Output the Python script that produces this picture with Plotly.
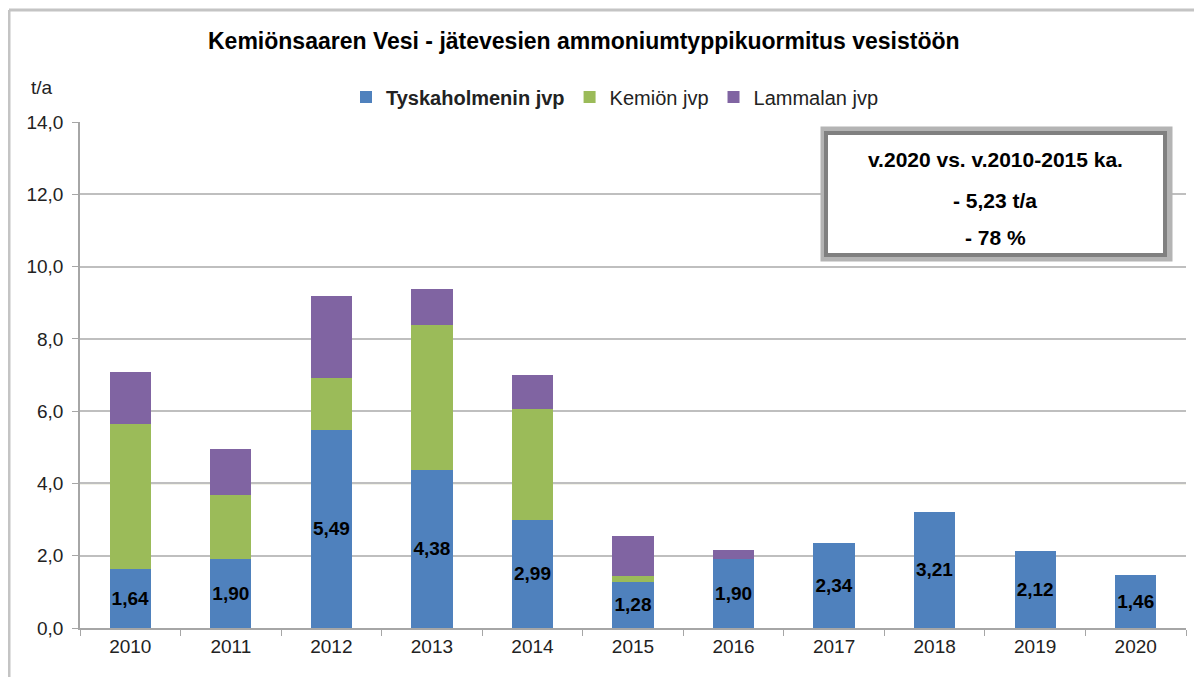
import plotly.graph_objects as go

years = ["2010", "2011", "2012", "2013", "2014", "2015", "2016", "2017", "2018", "2019", "2020"]
tyskaholmen = [1.64, 1.90, 5.49, 4.38, 2.99, 1.28, 1.90, 2.34, 3.21, 2.12, 1.46]
kemio = [4.00, 1.78, 1.43, 4.00, 3.07, 0.17, 0, 0, 0, 0, 0]
lammala = [1.44, 1.27, 2.27, 1.00, 0.94, 1.10, 0.25, 0, 0, 0, 0]
ytick_vals = [0, 2, 4, 6, 8, 10, 12, 14]
ytick_text = ["0,0", "2,0", "4,0", "6,0", "8,0", "10,0", "12,0", "14,0"]

FONT = "Liberation Sans, Arial, sans-serif"

labels = [f"{v:.2f}".replace(".", ",") for v in tyskaholmen]

fig = go.Figure()
fig.add_trace(go.Bar(x=years, y=tyskaholmen, name="<b>Tyskaholmenin jvp</b>",
                     marker=dict(color="#4F81BD", line=dict(width=0)),
                     text=labels, textposition="inside", insidetextanchor="middle",
                     textangle=0,
                     textfont=dict(family=FONT, size=19, color="black", weight="bold")))
fig.add_trace(go.Bar(x=years, y=kemio, name="Kemiön jvp",
                     marker=dict(color="#9BBB59", line=dict(width=0))))
fig.add_trace(go.Bar(x=years, y=lammala, name="Lammalan jvp",
                     marker=dict(color="#8064A2", line=dict(width=0))))

# plot area in screenshot pixels: x 80..1186, y 122..628 (page has 8px body margin)
def px_x(px):
    return (px - 80) / 1106

def px_y(py):
    return (628 - py) / 506

shapes = [
    # outer frame (top and left edges visible)
    dict(type="line", xref="paper", yref="paper", x0=px_x(9), x1=px_x(1260), y0=px_y(10), y1=px_y(10),
         line=dict(color="#C4C4C4", width=3), layer="below"),
    dict(type="line", xref="paper", yref="paper", x0=px_x(9), x1=px_x(9), y0=px_y(10), y1=px_y(720),
         line=dict(color="#C4C4C4", width=3), layer="below"),
    # coloured gridlines
    dict(type="line", xref="paper", yref="y", x0=0, x1=1, y0=6, y1=6,
         line=dict(color="#A9C1CC", width=1.5), layer="below"),
    dict(type="line", xref="paper", yref="y", x0=0, x1=1, y0=4, y1=4,
         line=dict(color="#C9CCA8", width=1.5), layer="below"),
    # info box shadow + border
    dict(type="rect", xref="paper", yref="paper", x0=px_x(825), x1=px_x(1168), y0=px_y(257), y1=px_y(131),
         line=dict(color="#B4B4B4", width=9), fillcolor="white", layer="above"),
    dict(type="rect", xref="paper", yref="paper", x0=px_x(826), x1=px_x(1165), y0=px_y(255), y1=px_y(133),
         line=dict(color="#808080", width=4), fillcolor="white", layer="above"),
]

annotations = [
    dict(text="<b>Kemiönsaaren Vesi - jätevesien ammoniumtyppikuormitus vesistöön</b>",
         xref="paper", yref="paper", x=px_x(584), y=px_y(41), showarrow=False,
         font=dict(family=FONT, size=23, color="black"), xanchor="center", yanchor="middle"),
    dict(text="t/a", xref="paper", yref="paper", x=px_x(42), y=px_y(88), showarrow=False,
         font=dict(family=FONT, size=19, color="#222222"), xanchor="center", yanchor="middle"),
    dict(text="<b>v.2020 vs. v.2010-2015 ka.</b>", xref="paper", yref="paper", x=px_x(995), y=px_y(159),
         showarrow=False, font=dict(family=FONT, size=21, color="black"), xanchor="center", yanchor="middle"),
    dict(text="<b>- 5,23 t/a</b>", xref="paper", yref="paper", x=px_x(995), y=px_y(200),
         showarrow=False, font=dict(family=FONT, size=21, color="black"), xanchor="center", yanchor="middle"),
    dict(text="<b>- 78 %</b>", xref="paper", yref="paper", x=px_x(995), y=px_y(237),
         showarrow=False, font=dict(family=FONT, size=21, color="black"), xanchor="center", yanchor="middle"),
]

fig.update_layout(
    width=1194, height=669,
    barmode="stack", bargap=0.59,
    paper_bgcolor="white", plot_bgcolor="white",
    margin=dict(l=72, r=16, t=114, b=49),
    font=dict(family=FONT, size=19, color="#222222"),
    uniformtext=dict(minsize=19, mode="show"),
    legend=dict(orientation="h", x=px_x(615), y=px_y(97), xanchor="center", yanchor="middle",
                font=dict(family=FONT, size=20, color="#222222"), itemwidth=30,
                traceorder="normal", bgcolor="rgba(0,0,0,0)"),
    shapes=shapes,
    annotations=annotations,
    showlegend=True,
)
fig.update_xaxes(type="category", tickson="boundaries", ticks="outside", ticklen=6,
                 tickcolor="#A6A6A6", showline=True, linecolor="#A6A6A6", linewidth=1.5,
                 showgrid=False, tickfont=dict(family=FONT, size=19, color="#222222"))
fig.update_yaxes(range=[0, 14], tickvals=ytick_vals, ticktext=ytick_text,
                 ticks="outside", ticklen=6, tickcolor="#A6A6A6", ticklabelstandoff=5,
                 showline=True, linecolor="#A6A6A6", linewidth=1.5,
                 showgrid=True, gridcolor="#BFBFBF", gridwidth=1.5, zeroline=False,
                 tickfont=dict(family=FONT, size=19, color="#222222"))

fig.write_html("out.html")
